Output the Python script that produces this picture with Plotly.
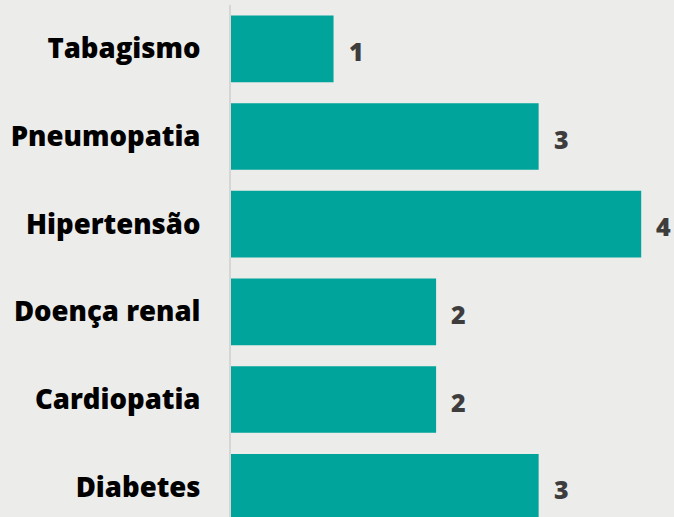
import plotly.graph_objects as go

categories = ["Diabetes", "Cardiopatia", "Doença renal", "Hipertensão", "Pneumopatia", "Tabagismo"]
values = [3, 2, 2, 4, 3, 1]

BAR_COLOR = "#00A49A"
BG = "#ECECEA"
FONT = "Open Sans, Lato, sans-serif"

fig = go.Figure()
fig.add_trace(go.Bar(
    x=values,
    y=categories,
    orientation="h",
    marker=dict(color=BAR_COLOR, line=dict(width=0)),
    hoverinfo="skip",
))

for c, v in zip(categories, values):
    fig.add_annotation(
        x=v, y=c, text=str(v), showarrow=False,
        xanchor="left", yanchor="middle", xshift=13, yshift=-2,
        font=dict(family=FONT, size=25, color="#3D3D3D", weight=800),
    )

fig.update_layout(
    width=674, height=517,
    margin=dict(l=231, r=0, t=5, b=0),
    paper_bgcolor=BG, plot_bgcolor=BG,
    bargap=0.24,
    showlegend=False,
    xaxis=dict(range=[0, 4.32], visible=False, fixedrange=True),
    yaxis=dict(
        range=[-0.34, 5.5],
        showline=True, linecolor="#D6D6D6", linewidth=2,
        showgrid=False, zeroline=False, ticks="",
        ticklabelstandoff=23,
        tickfont=dict(family=FONT, size=27.5, color="#000000", weight=800),
    ),
)

fig.write_html(
    "out.html",
    config={"displayModeBar": False},
    post_script="document.body.style.margin='0';document.body.style.padding='0';",
)
